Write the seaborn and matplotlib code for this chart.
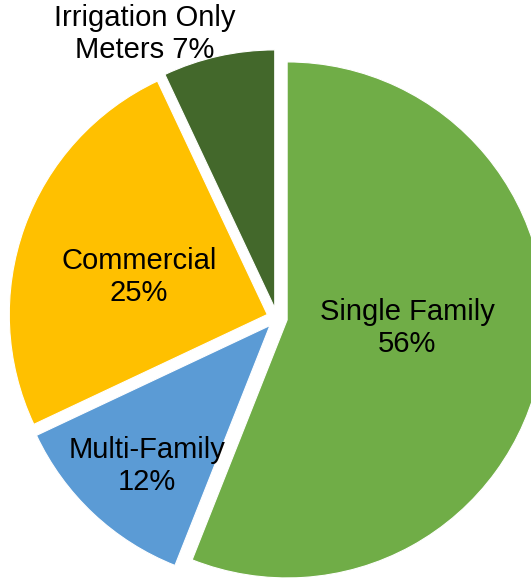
import matplotlib
matplotlib.use("Agg")
import matplotlib.pyplot as plt
import seaborn as sns

sns.set_theme(style="white")
plt.rcParams['font.family'] = ['Liberation Sans', 'DejaVu Sans']

categories = ["Single Family", "Multi-Family", "Commercial", "Irrigation Only\nMeters"]
shares = [56, 12, 25, 7]
colors = ["#70AD47", "#5B9BD5", "#FFC000", "#43682B"]

fig = plt.figure(figsize=(5.31, 5.79), dpi=100)
ax = fig.add_axes([0, 0, 1, 1])
ax.pie(shares, colors=colors, startangle=90, counterclock=False,
       explode=[0.04] * len(shares), radius=1.0,
       wedgeprops=dict(edgecolor="white", linewidth=0.8))

s = 258.0
cx, cy = 277.0, 318.0
def to_data(px, py):
    return (px - cx) / s, (cy - py) / s

label_pos = [(407, 328), (147, 466), (139, 277), (145, 34)]
for cat, val, (px, py) in zip(categories, shares, label_pos):
    if "\n" in cat:
        txt = f"{cat} {val}%"
    else:
        txt = f"{cat}\n{val}%"
    x, y = to_data(px, py)
    ax.text(x, y, txt, ha="center", va="center", fontsize=21, color="black",
            linespacing=1.18)

ax.set_xlim(-cx / s, (531 - cx) / s)
ax.set_ylim((cy - 579) / s, cy / s)
ax.set_aspect("equal")
ax.axis("off")
fig.savefig("out.png", dpi=100)
